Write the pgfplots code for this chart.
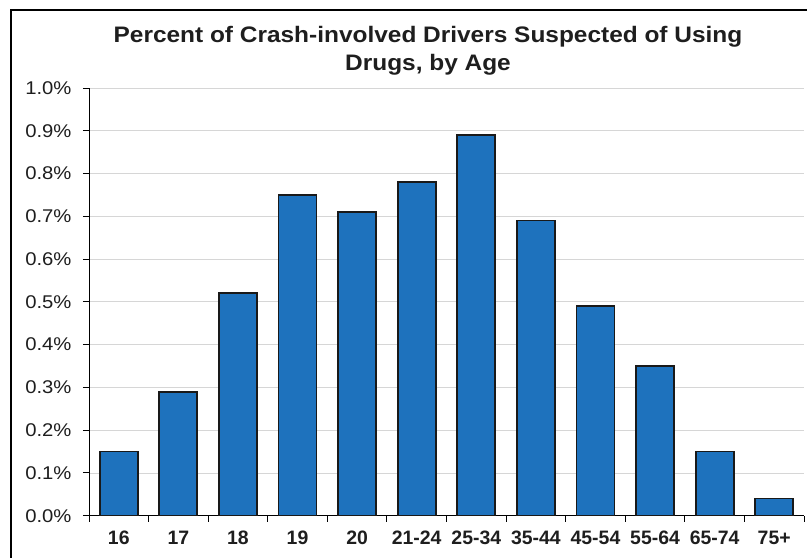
\documentclass[border=0pt]{standalone}
\usepackage{pgfplots}
\pgfplotsset{compat=1.18}
\usepackage{fontspec}
\setmainfont{Liberation Sans}
\definecolor{barblue}{RGB}{30,114,189}
\definecolor{txt}{RGB}{30,30,30}
\begin{document}
\begin{tikzpicture}[x=1bp,y=1bp]
\useasboundingbox (0,0) rectangle (807,558);
\draw[line width=2bp, black] (11,0) -- (11,548) -- (807,548);
\node[font=\bfseries\fontsize{22.5}{28}\selectfont, text=txt] at (428,521) {\scalebox{1.09}[1]{Percent of Crash-involved Drivers Suspected of Using}};
\node[font=\bfseries\fontsize{22.5}{28}\selectfont, text=txt] at (428,493) {\scalebox{1.09}[1]{Drugs, by Age}};
\begin{axis}[at={(89bp,42.3bp)}, anchor=south west, scale only axis,
  width=715bp, height=427.7bp,
  xmin=-0.5, xmax=11.5, ymin=0, ymax=1.0,
  axis x line*=bottom, axis y line*=left,
  axis line style={black, line width=0.9pt},
  ybar, bar width=38bp, bar shift=0pt,
  xtick={0,...,11},
  xticklabels={16,17,18,19,20,21-24,25-34,35-44,45-54,55-64,65-74,75+},
  minor xtick={-0.5,0.5,...,11.5},
  major x tick style={draw=none},
  minor x tick style={black, line width=0.9pt},
  ytick={0,0.1,0.2,0.3,0.4,0.5,0.6,0.7,0.8,0.9,1.0},
  y tick style={black, line width=0.9pt},
  tick align=outside,
  major tick length=6bp, minor tick length=6bp,
  ymajorgrids, grid style={draw=black!16, line width=0.8pt},
  yticklabel={\scalebox{1.1}[1]{\pgfmathprintnumber[fixed,fixed zerofill,precision=1,assume math mode=true]{\tick}\%}},
  yticklabel style={font=\fontsize{18.5}{20}\selectfont, text=txt, xshift=-8bp},
  xticklabel style={font=\bfseries\fontsize{19.5}{21}\selectfont, text=txt, yshift=-6bp},
]
\addplot[fill=barblue, draw=black!90, line width=1.8pt] coordinates {
(0,0.15) (1,0.29) (2,0.52) (3,0.75) (4,0.71) (5,0.78) (6,0.89) (7,0.69) (8,0.49) (9,0.35) (10,0.15) (11,0.04)};
\end{axis}
\end{tikzpicture}
\end{document}
